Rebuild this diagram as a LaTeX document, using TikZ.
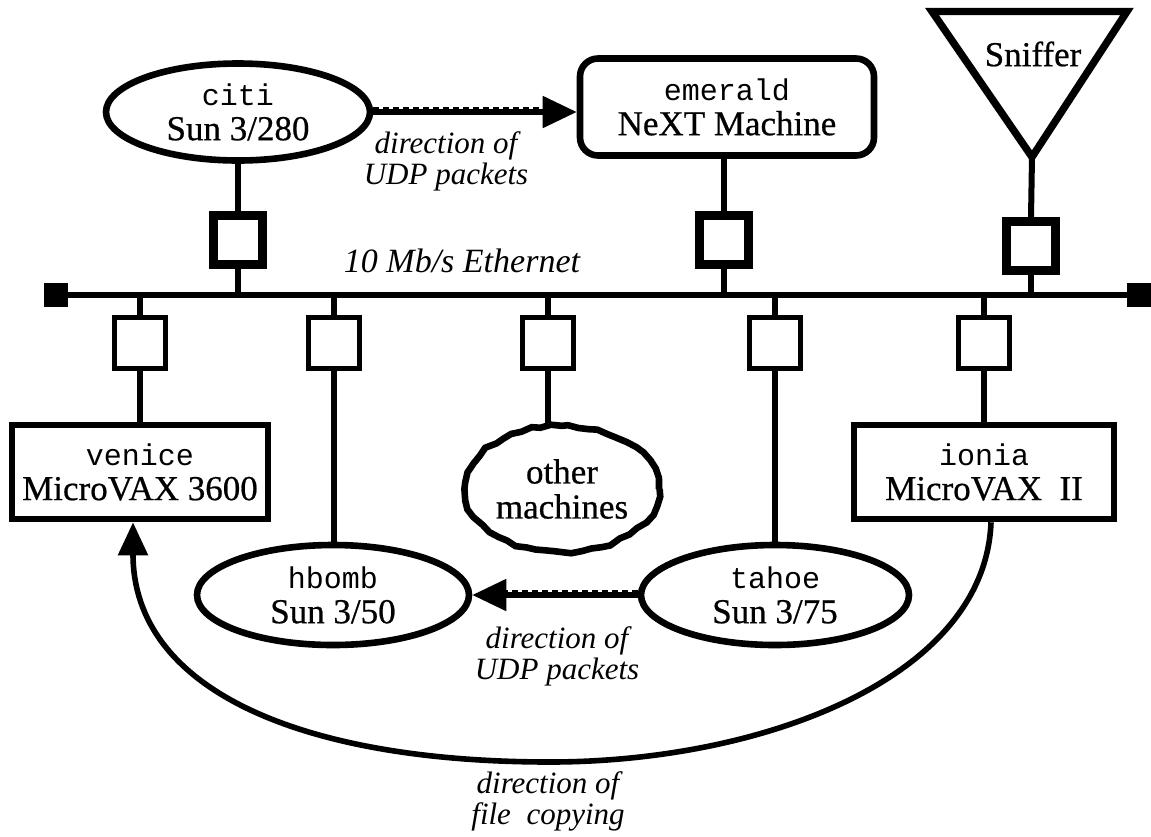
\documentclass[tikz,border=0pt]{standalone}
\usepackage{fontspec}
\setmainfont{Liberation Serif}
\setmonofont{Liberation Mono}
\newfontfamily\hostfont{Liberation Serif}[FakeBold=0.6]
\usetikzlibrary{shapes.geometric}
\usetikzlibrary{arrows.meta}
\usetikzlibrary{decorations.pathmorphing}

\newcommand{\hname}[1]{{\ttfamily\fontsize{15}{17.5}\selectfont #1}}

\begin{document}
\begin{tikzpicture}[
  x=0.5pt, y=-0.5pt,
  font=\hostfont\fontsize{17.5}{17.5}\selectfont,
  % --- styles ---
  host/.style={draw, ellipse, line width=3.3pt, inner sep=0pt, align=center,
    minimum width=132pt, minimum height=48.5pt},
  hostbox/.style={draw, line width=3.3pt, inner sep=0pt, align=center,
    minimum width=128pt, minimum height=47pt},
  tap/.style={draw, line width=2.8pt, minimum size=25.5pt, inner sep=0pt},
  bigtap/.style={draw, line width=4.2pt, minimum size=24.5pt, inner sep=0pt},
  busend/.style={fill, minimum size=12pt, inner sep=0pt},
  wire/.style={line width=3pt},
  udp/.style={line width=2.6pt, -{Triangle[length=17pt, width=15.5pt]}},
  udpdash/.style={line width=1.4pt, dash pattern=on 3pt off 2pt},
  copyarrow/.style={line width=2.8pt, -{Triangle[length=16.5pt, width=14.5pt]}},
  lab/.style={font=\fontsize{15.5}{15.5}\selectfont\itshape, align=center}
]
\useasboundingbox (0,0) rectangle (1151,836);

% ======================================================
% Ethernet trunk
% ======================================================
\node[busend] (endL) at (56,295) {};
\node[busend] (endR) at (1139,295) {};
\draw[wire] (endL.center) -- (endR.center);
\node[font=\fontsize{17}{17}\selectfont\itshape] (ethlab) at (462,261) {10 Mb/s Ethernet};

% ======================================================
% Upper machines + transceivers
% ======================================================
\node[host] (citi) at (238,112) {\hname{citi}\\Sun 3/280};
\node[hostbox, rounded corners=9pt, minimum width=147pt, minimum height=48.5pt]
  (emerald) at (727,107) {\hname{emerald}\\NeXT Machine};
\draw[line width=3.7pt, line join=miter] (932,11.5) -- (1127,11.5) -- (1032,157) -- cycle;
\coordinate (sniffapex) at (1032,157);
\node (sniffer) at (1033,54) {Sniffer};

\node[bigtap] (ct) at (238,240) {};
\node[bigtap] (et) at (724,240) {};
\node[bigtap] (st) at (1031,246) {};

\draw[wire] (citi.south -| ct) -- (ct.north);
\draw[wire] (et.north) -- (et.north |- emerald.south);
\draw[wire] (sniffapex) -- (st.north);
\draw[wire] (ct.south) -- (ct.south |- endL.center);
\draw[wire] (et.south) -- (et.south |- endL.center);
\draw[wire] (st.south) -- (st.south |- endL.center);

% ======================================================
% Lower machines + transceivers
% ======================================================
\node[tap] (tv) at (140,343) {};
\node[tap] (th) at (334,343) {};
\node[tap] (to) at (548,343) {};
\node[tap] (tt) at (775,343) {};
\node[tap] (ti) at (984,343) {};

\node[hostbox] (venice) at (140,472) {\hname{venice}\\MicroVAX 3600};
\node[hostbox, minimum width=130pt] (ionia) at (984,472) {\hname{ionia}\\MicroVAX\enspace II};
\node[host, minimum width=136pt, minimum height=50pt] (hbomb) at (333,595) {\hname{hbomb}\\Sun 3/50};
\node[host, minimum width=134pt, minimum height=50pt] (tahoe) at (775,595) {\hname{tahoe}\\Sun 3/75};
\pgfmathsetseed{11}
\node[draw, ellipse, line width=3.3pt, align=center, minimum width=97pt, minimum height=63pt,
  inner sep=0pt, decorate, decoration={random steps, segment length=5pt, amplitude=0.9pt}]
  (other) at (562,489) {other\\machines};

\foreach \t in {tv, th, to, tt, ti}
  \draw[wire] (\t.north) -- (\t.north |- endL.center);
\draw[wire] (tv.south) -- (tv.south |- venice.north);
\draw[wire] (th.south) -- (th.south |- hbomb.north);
\draw[wire] (to.south) -- (to.south |- other.north);
\draw[wire] (tt.south) -- (tt.south |- tahoe.north);
\draw[wire] (ti.south) -- (ti.south |- ionia.north);

% ======================================================
% UDP traffic (thick line with dashed top edge)
% ======================================================
\draw[udp] (citi.east) -- (citi.east -| emerald.west);
\draw[udpdash] ([yshift=1.8pt]citi.east) -- ([yshift=1.8pt, xshift=-17pt]citi.east -| emerald.west);
\node[lab] (udplab1) at (446,161) {direction of\\UDP packets};

\draw[udp] (tahoe.west) -- (hbomb.east);
\draw[udpdash] ([yshift=1.8pt]tahoe.west) -- ([yshift=1.8pt, xshift=17pt]hbomb.east);
\node[lab] (udplab2) at (557,656) {direction of\\UDP packets};

% ======================================================
% File copying ionia -> venice
% ======================================================
\coordinate (copylow) at (550,762);
\draw[copyarrow] ([xshift=3.5pt]ionia.south) .. controls +(-6,157) and +(210,0) .. (copylow)
  .. controls +(-250,0) and +(0,167) .. ([xshift=-3.5pt]venice.south);
\node[lab] (copylab) at (548,801) {direction of\\file\enspace copying};

\end{tikzpicture}
\end{document}
